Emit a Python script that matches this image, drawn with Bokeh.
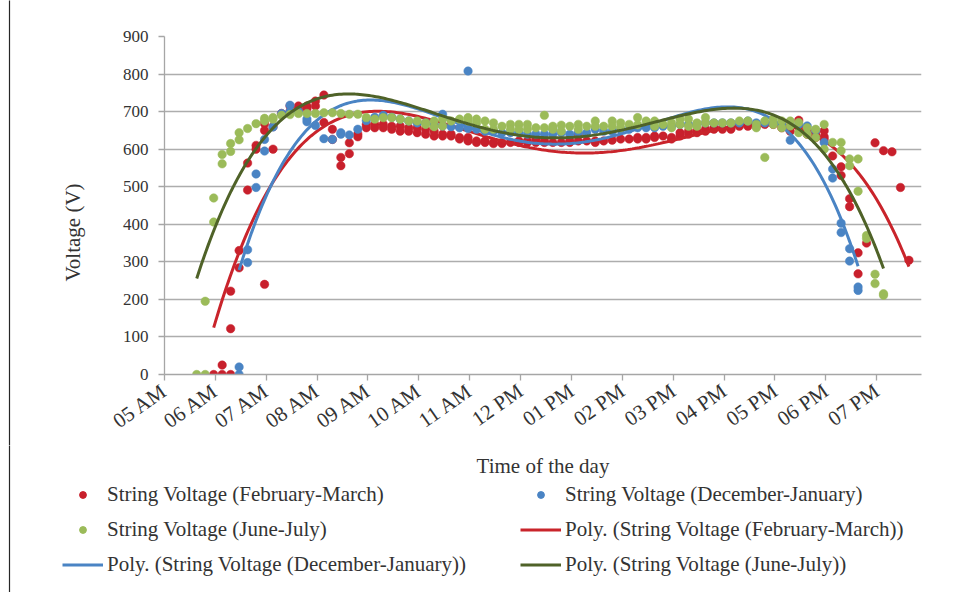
import numpy as np
from bokeh.plotting import figure
from bokeh.layouts import column, row
from bokeh.models import Legend, LegendItem, FixedTicker, Label, Range1d
from bokeh.embed import file_html
from bokeh.resources import INLINE

FONT = "Liberation Serif"
TXT = "#333333"

# ---------------- data ----------------
hour_ticks = list(range(5, 20))
hour_labels = ["05 AM", "06 AM", "07 AM", "08 AM", "09 AM", "10 AM", "11 AM", "12 PM",
               "01 PM", "02 PM", "03 PM", "04 PM", "05 PM", "06 PM", "07 PM"]
volt_ticks = [0, 100, 200, 300, 400, 500, 600, 700, 800, 900]

feb_slots = ["05:58", "06:08", "06:18", "06:28", "06:38", "06:48", "06:58", "07:08", "07:18", "07:28",
             "07:38", "07:48", "07:58", "08:08", "08:18", "08:28", "08:38", "08:48", "08:58", "09:08",
             "09:18", "09:28", "09:38", "09:48", "09:58", "10:08", "10:18", "10:28", "10:38", "10:48",
             "10:58", "11:08", "11:18", "11:28", "11:38", "11:48", "11:58", "12:08", "12:18", "12:28",
             "12:38", "12:48", "12:58", "13:08", "13:18", "13:28", "13:38", "13:48", "13:58", "14:08",
             "14:18", "14:28", "14:38", "14:48", "14:58", "15:08", "15:18", "15:28", "15:38", "15:48",
             "15:58", "16:08", "16:18", "16:28", "16:38", "16:48", "16:58", "17:08", "17:18", "17:28",
             "17:38", "17:48", "17:58", "18:08", "18:18", "18:28", "18:38", "18:48", "18:58", "19:08",
             "19:18", "19:28", "19:38"]
feb_values = [[0], [0, 25], [0, 122, 222], [330, 284], [563, 491], [610, 600], [668, 650, 240], [600, 660], [695], [715, 700],
              [715, 706], [715, 708], [728, 715], [744, 671], [653, 626], [578, 556], [617, 588], [640, 633], [666, 657], [666, 657],
              [666, 657], [661, 653], [661, 648], [657, 648], [657, 644], [653, 640], [648, 635], [640, 635], [640, 635], [631, 627],
              [631, 622], [622, 618], [622, 618], [618, 615], [618, 615], [618], [622, 618], [622, 618], [627, 618], [622, 618],
              [618], [618], [618, 622], [640, 622], [622], [622, 618], [622], [624], [627], [627],
              [631, 627], [631, 627], [635, 631], [635], [631, 627], [644, 635], [648, 640], [648, 644], [653, 648], [657, 653],
              [657, 653], [657, 653], [661], [666, 661], [666, 661], [666], [666], [666, 657], [661, 648], [677, 660],
              [640, 650], [640, 631], [649, 633, 626], [582], [553, 530], [468, 447], [324, 268], [350], [617], [596],
              [593], [498], [304]]

dec_slots = ["06:28", "06:38", "06:48", "06:58", "07:08", "07:18", "07:28", "07:38", "07:48", "07:58",
             "08:08", "08:18", "08:28", "08:38", "08:48", "08:58", "09:08", "09:18", "09:28", "09:38",
             "09:48", "09:58", "10:08", "10:18", "10:28", "10:38", "10:48", "10:58", "11:08", "11:18",
             "11:28", "11:38", "11:48", "11:58", "12:08", "12:18", "12:28", "12:38", "12:48", "12:58",
             "13:08", "13:18", "13:28", "13:38", "13:48", "13:58", "14:08", "14:18", "14:28", "14:38",
             "14:48", "14:58", "15:08", "15:18", "15:28", "15:38", "15:48", "15:58", "16:08", "16:18",
             "16:28", "16:38", "16:48", "16:58", "17:08", "17:18", "17:28", "17:38", "17:48", "17:58",
             "18:08", "18:18", "18:28", "18:38"]
dec_values = [[0, 20], [332, 298], [534, 498], [626, 595], [659], [695], [717, 700], [700], [673, 680], [663],
              [628], [626], [644, 640], [638], [653], [676], [685], [690], [685], [680],
              [675], [670], [670], [665], [693, 662], [660], [657], [808, 655], [653], [648],
              [648], [644], [644], [644], [640], [640], [640], [640, 653], [644], [640],
              [644], [644], [653], [648], [648], [653], [653], [657], [657], [657],
              [661], [661], [666], [666], [666], [670], [670], [670], [670], [670],
              [675], [670], [670], [670], [666], [624], [666], [662], [650], [618],
              [547, 523], [403, 378], [335, 302], [233, 224]]

jun_slots = ["05:38", "05:48", "05:58", "06:08", "06:18", "06:28", "06:38", "06:48", "06:58", "07:08",
             "07:18", "07:28", "07:38", "07:48", "07:58", "08:08", "08:18", "08:28", "08:38", "08:48",
             "08:58", "09:08", "09:18", "09:28", "09:38", "09:48", "09:58", "10:08", "10:18", "10:28",
             "10:38", "10:48", "10:58", "11:08", "11:18", "11:28", "11:38", "11:48", "11:58", "12:08",
             "12:18", "12:28", "12:38", "12:48", "12:58", "13:08", "13:18", "13:28", "13:38", "13:48",
             "13:58", "14:08", "14:18", "14:28", "14:38", "14:48", "14:58", "15:08", "15:18", "15:28",
             "15:38", "15:48", "15:58", "16:08", "16:18", "16:28", "16:38", "16:48", "16:58", "17:08",
             "17:18", "17:28", "17:38", "17:48", "17:58", "18:08", "18:18", "18:28", "18:38", "18:48",
             "18:58", "19:08"]
jun_values = [[0], [0, 195], [470, 406], [586, 561], [615, 594], [644, 625], [655], [668], [682, 675], [684, 680],
              [690], [692], [695], [695], [695], [697], [697], [695], [693], [693],
              [684], [680], [684], [684], [680], [675], [675], [670, 666], [675, 660], [680, 662],
              [675], [680], [684, 675], [680, 670], [675, 653], [670, 653], [661], [666, 653], [666, 653], [666, 653],
              [657], [690, 657], [661, 653], [664, 648], [661], [666, 653], [661], [675, 661], [661], [675, 661],
              [670, 657], [666], [684, 665], [675], [675, 661], [666], [670, 657], [680, 666], [680, 661], [670, 661],
              [684, 670], [670], [670], [670], [675], [675], [666, 657], [578, 675], [680, 666], [675, 657],
              [675, 662], [671, 644], [657, 640], [653, 631], [666, 600], [618], [618, 596], [574, 556], [574, 488], [370, 362],
              [267, 242], [215, 211]]

series_labels = ["String Voltage (February-March)", "String Voltage (December-January)",
                 "String Voltage (June-July)"]
dot_colors = ["#C8202C", "#4A84C4", "#9BBB59"]
line_colors = ["#C9242B", "#4A84C4", "#4F6228"]


def to_hours(s):
    h, m = s.split(":")
    return int(h) + int(m) / 60.0


def flatten(slots, values):
    xs, ys = [], []
    for s, vals in zip(slots, values):
        for v in vals:
            xs.append(to_hours(s))
            ys.append(v)
    return np.array(xs), np.array(ys, dtype=float)


def blank(width, height, xr, yr):
    f = figure(width=width, height=height, output_backend="svg", toolbar_location=None,
               x_range=xr, y_range=yr, x_axis_type=None, y_axis_type=None,
               min_border=0, min_border_left=0, min_border_right=0,
               min_border_top=0, min_border_bottom=0)
    f.frame_align = False
    f.outline_line_color = None
    f.xgrid.visible = False
    f.ygrid.visible = False
    f.background_fill_color = "white"
    f.border_fill_color = "white"
    return f


# ---------------- main plot ----------------
p = figure(width=879, height=445, output_backend="svg", toolbar_location=None,
           x_range=Range1d(5, 19.88), y_range=Range1d(0, 900),
           min_border_left=64, min_border_right=58, min_border_top=36, min_border_bottom=70)
p.frame_align = False
p.background_fill_color = "white"
p.border_fill_color = "white"
p.outline_line_color = None

p.xaxis.ticker = FixedTicker(ticks=hour_ticks)
p.xaxis.major_label_overrides = {h: lab for h, lab in zip(hour_ticks, hour_labels)}
p.xaxis.major_label_orientation = 0.61
p.yaxis.ticker = FixedTicker(ticks=volt_ticks)
for ax in (p.xaxis, p.yaxis):
    ax.axis_line_color = "#A6A6A6"
    ax.axis_line_width = 1.3
    ax.major_tick_line_color = "#A6A6A6"
    ax.major_tick_line_width = 1.3
    ax.major_tick_out = 6
    ax.major_tick_in = 0
    ax.minor_tick_line_color = None
    ax.major_label_text_font = FONT
    ax.major_label_text_color = TXT
p.yaxis.major_label_text_font_size = "17px"
p.xaxis.major_label_text_font_size = "21px"
p.yaxis.major_label_standoff = 10
p.xaxis.major_label_standoff = 8
p.xgrid.grid_line_color = None
p.ygrid.grid_line_color = "#ADADAD"
p.ygrid.grid_line_width = 1.3

for slots, values, dc, lc in zip([feb_slots, dec_slots, jun_slots],
                                 [feb_values, dec_values, jun_values], dot_colors, line_colors):
    xs, ys = flatten(slots, values)
    p.scatter(xs, ys, size=8.5, fill_color=dc, line_color=dc, line_width=0.5)
    coef = np.polyfit(xs, ys, 4)          # Excel-style polynomial trendline
    xf = np.linspace(xs.min(), xs.max(), 300)
    p.line(xf, np.polyval(coef, xf), line_color=lc, line_width=3)

# ---------------- left strip: y title + chart-area border ----------------
p_left = blank(100, 445, Range1d(0, 100), Range1d(445, 0))
p_left.segment(x0=[9], y0=[-20], x1=[9], y1=[470], line_color="#262626", line_width=1.2)
p_left.add_layout(Label(x=72, y=232, text="Voltage (V)", text_font=FONT, text_font_size="21px",
                        text_color=TXT, text_align="center", text_baseline="middle", angle=np.pi / 2))

# ---------------- bottom strip: x title + legend ----------------
p_leg = blank(979, 147, Range1d(0, 979), Range1d(592, 445))
p_leg.segment(x0=[9], y0=[420], x1=[9], y1=[620], line_color="#262626", line_width=1.2)
p_leg.add_layout(Label(x=542.5, y=465, text="Time of the day", text_font=FONT, text_font_size="21px",
                       text_color=TXT, text_align="center", text_baseline="middle"))

# legend swatches (renderers with no visible data; only their styles are shown in the legend)
dots = [p_leg.scatter(x=[np.nan], y=[np.nan], size=8, fill_color=c, line_color=c) for c in dot_colors]
lines = [p_leg.line(x=[np.nan, np.nan], y=[np.nan, np.nan], line_color=c, line_width=3) for c in line_colors]


def make_legend(items, loc):
    lg = Legend(items=items, location=loc, orientation="vertical")
    lg.label_text_font = FONT
    lg.label_text_font_size = "21px"
    lg.label_text_color = TXT
    lg.glyph_width = 41
    lg.glyph_height = 17
    lg.label_height = 24
    lg.spacing = 10
    lg.padding = 0
    lg.margin = 0
    lg.label_standoff = 4
    lg.border_line_color = None
    lg.background_fill_alpha = 0
    return lg


p_leg.add_layout(make_legend([
    LegendItem(label=series_labels[0], renderers=[dots[0]]),
    LegendItem(label=series_labels[2], renderers=[dots[2]]),
    LegendItem(label="Poly. (" + series_labels[1] + ")", renderers=[lines[1]]),
], (62, 15)))
p_leg.add_layout(make_legend([
    LegendItem(label=series_labels[1], renderers=[dots[1]]),
    LegendItem(label="Poly. (" + series_labels[0] + ")", renderers=[lines[0]]),
    LegendItem(label="Poly. (" + series_labels[2] + ")", renderers=[lines[2]]),
], (520, 15)))

layout = column(row(p_left, p, spacing=0), p_leg, spacing=0)
open("out.html", "w").write(file_html(layout, INLINE))
